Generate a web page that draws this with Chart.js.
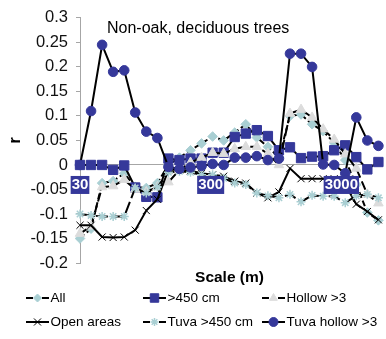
<!DOCTYPE html>
<html><head><meta charset="utf-8">
<script src="https://cdn.jsdelivr.net/npm/chart.js@4.4.1/dist/chart.umd.min.js"></script>
<style>html,body{margin:0;padding:0;background:#fff;}canvas{display:block;}</style>
</head><body>
<canvas id="c" width="386" height="339"></canvas>
<script>
// Scale (m) of each point (log spaced)
const scalesM = [30, 36.45, 44.3, 53.8, 65.4, 79.4, 96.5, 117.3, 142.5, 173.1, 210.3, 255.5, 310.5, 377.2,
  458.3, 556.9, 676.6, 822.1, 998.8, 1213.6, 1474.5, 1791.6, 2176.7, 2644.7, 3213.4, 3904.3, 4743.8, 5763.7];
const xTickLabels = [30, 300, 3000];
const yTickValues = [-0.2, 0.3, 0.05]; // min, max, step
const chartTitle = 'Non-oak, deciduous trees';
const xTitle = 'Scale (m)';
const yTitle = 'r';
const seriesNames = ['All', '>450 cm', 'Hollow >3', 'Open areas', 'Tuva >450 cm', 'Tuva hollow >3'];

const allVals = [-0.15, -0.13, -0.037, -0.033, -0.017, -0.045, -0.047, -0.037, 0.0, 0.015, 0.03, 0.044, 0.058, 0.05,
  0.066, 0.083, 0.056, 0.037, 0.015, 0.1, 0.103, 0.083, 0.069, 0.045, 0.01, -0.04, -0.097, -0.113];
const over450 = [0, 0, 0, -0.01, -0.001, -0.046, -0.065, -0.066, 0.013, 0.01, 0.013, 0.013, 0.025, 0.025,
  0.057, 0.064, 0.071, 0.059, 0.03, 0.036, 0.014, 0.017, 0.018, 0.03, 0.04, 0.016, -0.009, 0.006];
const hollow3 = [-0.14, -0.125, -0.045, -0.043, -0.03, -0.05, -0.055, -0.045, -0.035, -0.01, 0.005, 0.015, 0.025, 0.023,
  0.033, 0.037, 0.037, 0.023, 0.0, 0.105, 0.113, 0.097, 0.073, 0.052, 0.022, -0.007, -0.06, -0.078];
const openAreas = [-0.123, -0.123, -0.147, -0.148, -0.147, -0.133, -0.093, -0.07, -0.01, -0.01, -0.012, -0.017, -0.02, -0.023,
  -0.033, -0.037, -0.057, -0.067, -0.055, -0.007, -0.028, -0.028, -0.028, -0.028, -0.04, -0.08, -0.095, -0.112];
const tuva450 = [-0.1, -0.103, -0.105, -0.105, -0.105, -0.047, -0.057, -0.045, -0.015, -0.013, -0.015, -0.02, -0.02, -0.027,
  -0.037, -0.04, -0.057, -0.063, -0.067, -0.06, -0.075, -0.062, -0.064, -0.064, -0.077, -0.063, -0.06, -0.067];
const tuvaHollow3 = [0, 0.11, 0.245, 0.19, 0.193, 0.107, 0.068, 0.055, -0.004, -0.008, -0.005, -0.002, 0.002, 0.0,
  0.015, 0.015, 0.018, 0.01, 0.013, 0.227, 0.227, 0.2, 0.001, 0.0, -0.017, 0.097, 0.05, 0.039];

const NAVY = '#35389a';
const TEAL = '#a9cfd3';
const GREY = '#dcdcdc';
const FONT = '"Liberation Sans", Arial, Helvetica, sans-serif';

function pts(vals) { return vals.map((v, i) => ({x: scalesM[i], y: v})); }

const styles = [
  {dash: [6, 3], ps: 'rectRot', r: 4.8, fill: TEAL, stroke: TEAL, bw: 1, lr: 4, order: 6},
  {dash: [], ps: 'rect', r: 6.6, fill: NAVY, stroke: NAVY, bw: 1, lr: 6, order: 5},
  {dash: [9, 4], ps: 'triangle', r: 5.5, fill: GREY, stroke: GREY, bw: 1, lr: 4.5, order: 4},
  {dash: [], ps: 'crossRot', r: 5, fill: '#000', stroke: '#000', bw: 1, lr: 5, order: 3},
  {dash: [12, 4], ps: 'star', r: 4.5, fill: TEAL, stroke: TEAL, bw: 1.5, lr: 4, order: 2},
  {dash: [], ps: 'circle', r: 4.8, fill: NAVY, stroke: NAVY, bw: 1, lr: 4.5, order: 1}
];
const seriesVals = [allVals, over450, hollow3, openAreas, tuva450, tuvaHollow3];

const datasets = seriesVals.map((vals, i) => ({
  label: seriesNames[i],
  data: pts(vals),
  borderColor: '#000',
  borderWidth: 2,
  borderDash: styles[i].dash,
  tension: 0,
  fill: false,
  pointStyle: styles[i].ps,
  pointRadius: styles[i].r,
  pointBackgroundColor: styles[i].fill,
  pointBorderColor: styles[i].stroke,
  pointBorderWidth: styles[i].bw,
  order: styles[i].order,
  clip: false
}));

const extraText = {
  id: 'extraText',
  afterDraw(chart) {
    const ctx = chart.ctx;
    ctx.save();
    ctx.setLineDash([]);
    ctx.fillStyle = '#000';
    ctx.textBaseline = 'alphabetic';
    ctx.textAlign = 'left';
    ctx.font = '16px ' + FONT;
    ctx.fillText(chartTitle, 107, 33);
    ctx.font = 'bold 15.5px ' + FONT;
    ctx.textAlign = 'center';
    ctx.fillText(xTitle, 229.5, 281.5);
    // legend
    const colX = [26, 143, 262];
    const rowY = [298, 322];
    chart.data.datasets.forEach((ds, i) => {
      const x0 = colX[i % 3], y0 = rowY[Math.floor(i / 3)];
      const st = styles[i];
      ctx.strokeStyle = '#000';
      ctx.lineWidth = 2;
      ctx.setLineDash(st.dash.length ? [7, 9] : []);
      ctx.beginPath(); ctx.moveTo(x0, y0); ctx.lineTo(x0 + 23, y0); ctx.stroke();
      ctx.setLineDash([]);
      ctx.fillStyle = st.fill; ctx.strokeStyle = st.stroke; ctx.lineWidth = st.bw;
      if (Chart.helpers && Chart.helpers.drawPoint) {
        Chart.helpers.drawPoint(ctx, {pointStyle: st.ps, radius: st.lr, rotation: 0, borderWidth: st.bw}, x0 + 11.5, y0);
      }
      ctx.fillStyle = '#000';
      ctx.textAlign = 'left';
      ctx.textBaseline = 'middle';
      ctx.font = '13.5px ' + FONT;
      ctx.fillText(ds.label, x0 + 24.5, y0 + 0.5);
    });
    ctx.restore();
  }
};

new Chart(document.getElementById('c'), {
  type: 'line',
  data: {datasets},
  plugins: [extraText],
  options: {
    responsive: false,
    animation: false,
    devicePixelRatio: 1,
    layout: {padding: {left: 0, right: 6, top: 14, bottom: 76}},
    plugins: {legend: {display: false}, title: {display: false}, tooltip: {enabled: false}},
    scales: {
      x: {
        type: 'logarithmic',
        position: {y: 0},
        min: scalesM[0],
        max: scalesM[scalesM.length - 1],
        afterBuildTicks: (s) => { s.ticks = xTickLabels.map(v => ({value: v})); },
        grid: {display: false, drawTicks: false},
        border: {display: true, color: '#a6a6a6', width: 1},
        ticks: {
          z: 1,
          autoSkip: false, maxRotation: 0, minRotation: 0, padding: 11,
          color: '#fff', font: {family: FONT, size: 15, weight: 'bold'},
          showLabelBackdrop: true, backdropColor: NAVY,
          backdropPadding: {left: 1, right: 1, top: 0, bottom: 0},
          callback: (v) => String(v)
        }
      },
      y: {
        min: yTickValues[0],
        max: yTickValues[1],
        afterFit: (s) => { s.width = 80; },
        grid: {drawOnChartArea: false, drawTicks: true, tickLength: 4, color: '#a6a6a6'},
        border: {color: '#a6a6a6', width: 1},
        ticks: {
          stepSize: yTickValues[2], padding: 8, color: '#111',
          font: {family: FONT, size: 16.5},
          callback: (v) => String(Number(Number(v).toFixed(2)))
        },
        title: {display: true, text: yTitle, color: '#000', font: {family: FONT, size: 16, weight: 'bold'}, padding: {top: 6, bottom: 0}}
      }
    }
  }
});
</script>
</body></html>
